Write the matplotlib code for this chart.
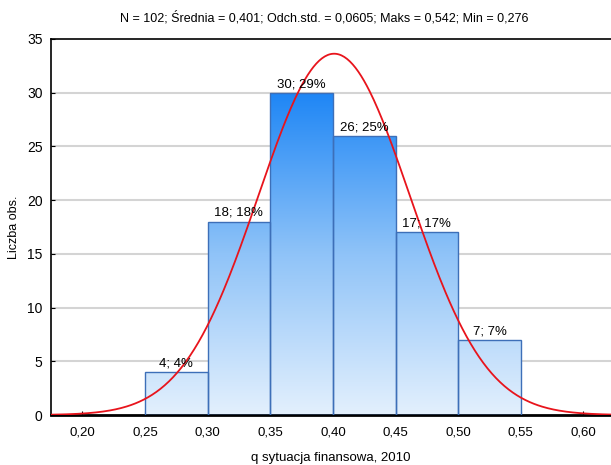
import numpy as np
from matplotlib import pyplot as plt
from matplotlib.colors import LinearSegmentedColormap

# histogram bins and counts
bin_edges = [0.25, 0.30, 0.35, 0.40, 0.45, 0.50, 0.55]
counts = [4, 18, 30, 26, 17, 7]
percents = [4, 18, 29, 25, 17, 7]
n_obs = 102
mean = 0.401
std = 0.0605
x_ticks = [0.20, 0.25, 0.30, 0.35, 0.40, 0.45, 0.50, 0.55, 0.60]

plt.rcParams['font.family'] = ['Liberation Sans', 'DejaVu Sans']

fig = plt.figure(figsize=(6.11, 4.65), dpi=100)
ax = fig.add_axes([51 / 611, 50 / 465, 1 - 51 / 611, 376 / 465])

xmin, xmax = 0.175, 0.622
ax.set_xlim(xmin, xmax)
ax.set_ylim(0, 35)

# horizontal grid
for y in range(5, 35, 5):
    ax.axhline(y, color='#d4d4d4', lw=1.5, zorder=0)

# bars with a vertical gradient fill
cmap = LinearSegmentedColormap.from_list('bluegrad', ['#e3f0fd', '#8fc3f8', '#1e86f5'])
grad = np.linspace(0, 1, 256).reshape(-1, 1)
widths = np.diff(bin_edges)
bars = ax.bar(bin_edges[:-1], counts, width=widths, align='edge',
              facecolor='none', edgecolor='#3d6fb8', lw=1, zorder=3)
for b in bars:
    im = ax.imshow(grad, cmap=cmap, origin='lower', aspect='auto',
                   extent=(xmin, xmax, 0, 30), zorder=2, vmin=0, vmax=1)
    im.set_clip_path(b)

for b, c, p in zip(bars, counts, percents):
    ax.text(b.get_x() + b.get_width() / 2, c + 0.25, f'{c}; {p}%',
            ha='center', va='bottom', fontsize=9.5, zorder=5)

# fitted normal curve
xs = np.linspace(xmin, xmax, 400)
ys = n_obs * 0.05 / (std * np.sqrt(2 * np.pi)) * np.exp(-0.5 * ((xs - mean) / std) ** 2)
ax.plot(xs, ys, color='#e8141c', lw=1.3, zorder=4)

ax.set_xticks(x_ticks)
ax.set_xticklabels([f'{t:.2f}'.replace('.', ',') for t in x_ticks], fontsize=9.5)
ax.set_yticks(range(0, 36, 5))
ax.tick_params(axis='y', labelsize=10, direction='in', length=3, pad=6)
ax.tick_params(axis='x', direction='in', length=3, pad=8)

for s in ['left', 'top']:
    ax.spines[s].set_linewidth(1.2)
ax.spines['bottom'].set_linewidth(2)
ax.spines['right'].set_visible(False)

ax.set_ylabel('Liczba obs.', fontsize=9, labelpad=5)
ax.set_xlabel('q sytuacja finansowa, 2010', fontsize=9.5, labelpad=10)
fig.text(0.53, 1 - 18 / 465,
         'N = 102; Średnia = 0,401; Odch.std. = 0,0605; Maks = 0,542; Min = 0,276',
         ha='center', va='center', fontsize=9)

fig.savefig('out.png', dpi=100)
